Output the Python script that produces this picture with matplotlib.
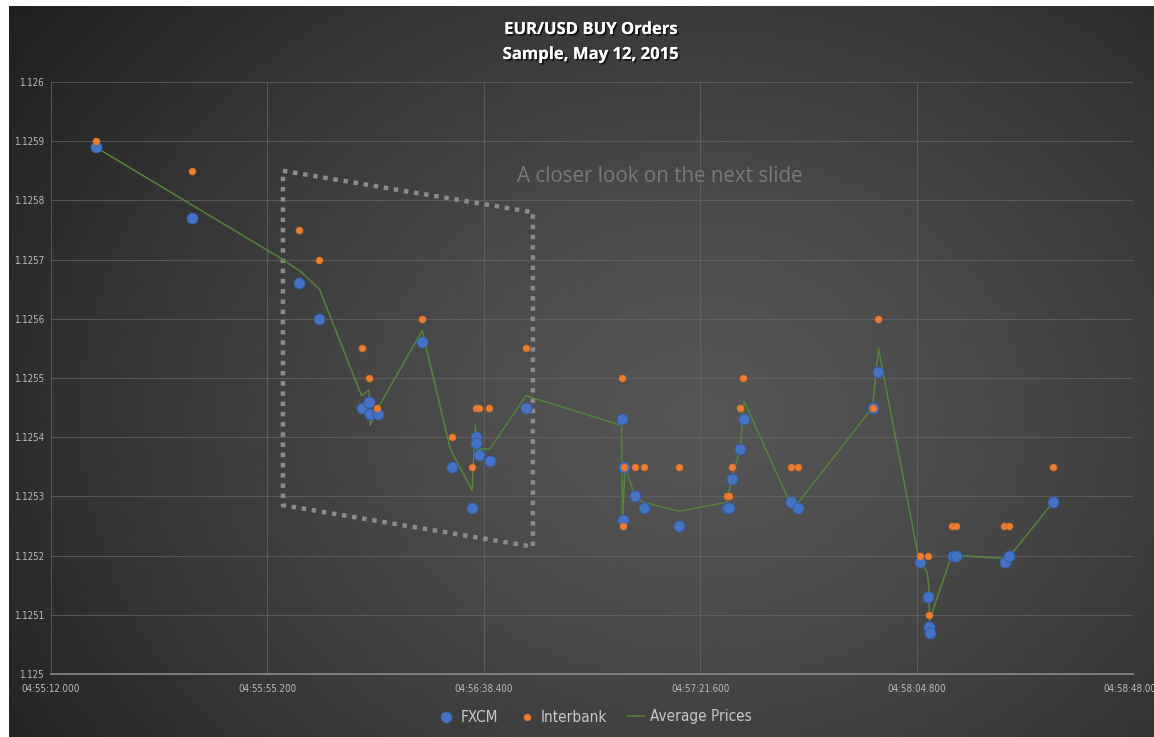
import numpy as np
import pandas as pd
import matplotlib
matplotlib.use("Agg")
import matplotlib.pyplot as plt
import matplotlib.patheffects as pe
from matplotlib import font_manager
from matplotlib.ticker import FixedLocator, FuncFormatter

# ---- order data (time of day, price) ----
fxcm_time = ["04:55:20.9", "04:55:40.15", "04:56:01.5", "04:56:05.5", "04:56:14.0",
             "04:56:15.5", "04:56:15.7", "04:56:17.2", "04:56:26.0", "04:56:32.1",
             "04:56:36.05", "04:56:36.85", "04:56:36.75", "04:56:37.5", "04:56:39.6",
             "04:56:46.8", "04:57:06.05", "04:57:06.25", "04:57:06.45", "04:57:08.6",
             "04:57:10.3", "04:57:17.4", "04:57:26.9", "04:57:27.3", "04:57:27.95",
             "04:57:29.6", "04:57:30.25", "04:57:39.7", "04:57:41.2", "04:57:56.1",
             "04:57:57.1", "04:58:05.5", "04:58:07.1", "04:58:07.3", "04:58:07.4",
             "04:58:12.1", "04:58:12.75", "04:58:22.5", "04:58:23.3", "04:58:32.0"]
fxcm_price = [1.12589, 1.12577, 1.12566, 1.12560, 1.12545,
              1.12546, 1.12544, 1.12544, 1.12556, 1.12535,
              1.12528, 1.12540, 1.12539, 1.12537, 1.12536,
              1.12545, 1.12543, 1.12526, 1.12535, 1.12530,
              1.12528, 1.12525, 1.12528, 1.12528, 1.12533,
              1.12538, 1.12543, 1.12529, 1.12528, 1.12545,
              1.12551, 1.12519, 1.12513, 1.12508, 1.12507,
              1.12520, 1.12520, 1.12519, 1.12520, 1.12529]

interbank_time = ["04:55:20.9", "04:55:40.15", "04:56:01.5", "04:56:05.5", "04:56:14.0",
                  "04:56:15.5", "04:56:17.1", "04:56:26.0", "04:56:32.1", "04:56:36.05",
                  "04:56:36.75", "04:56:37.4", "04:56:39.5", "04:56:46.75", "04:57:06.0",
                  "04:57:06.2", "04:57:06.45", "04:57:08.5", "04:57:10.3", "04:57:17.4",
                  "04:57:26.9", "04:57:27.3", "04:57:27.9", "04:57:29.5", "04:57:30.2",
                  "04:57:39.7", "04:57:41.2", "04:57:56.0", "04:57:57.1", "04:58:05.4",
                  "04:58:07.1", "04:58:07.2", "04:58:11.9", "04:58:12.6", "04:58:22.3",
                  "04:58:23.2", "04:58:32.0"]
interbank_price = [1.12590, 1.12585, 1.12575, 1.12570, 1.12555,
                   1.12550, 1.12545, 1.12560, 1.12540, 1.12535,
                   1.12545, 1.12545, 1.12545, 1.12555, 1.12550,
                   1.12525, 1.12535, 1.12535, 1.12535, 1.12535,
                   1.12530, 1.12530, 1.12535, 1.12545, 1.12550,
                   1.12535, 1.12535, 1.12545, 1.12560, 1.12520,
                   1.12520, 1.12510, 1.12525, 1.12525, 1.12525,
                   1.12525, 1.12535]

avg_time = ["04:55:20.9", "04:55:58.3", "04:56:01.8", "04:56:05.6", "04:56:14.0",
            "04:56:15.5", "04:56:15.7", "04:56:17.3", "04:56:26.1", "04:56:31.7",
            "04:56:36.05", "04:56:36.7", "04:56:37.0", "04:56:39.6", "04:56:46.8",
            "04:57:05.9", "04:57:06.1", "04:57:06.6", "04:57:08.6", "04:57:10.25",
            "04:57:17.4", "04:57:26.9", "04:57:27.9", "04:57:29.55", "04:57:30.4",
            "04:57:39.5", "04:57:41.2", "04:57:56.0", "04:57:57.2", "04:58:05.1",
            "04:58:06.95", "04:58:07.3", "04:58:07.35", "04:58:11.8", "04:58:13.5",
            "04:58:22.5", "04:58:23.5", "04:58:32.0"]
avg_price = [1.12589, 1.12570, 1.12568, 1.12565, 1.12547,
             1.12548, 1.12542, 1.12545, 1.12558, 1.12538,
             1.12531, 1.12542, 1.12538, 1.12538, 1.12547,
             1.12542, 1.12526, 1.12535, 1.12530, 1.12529,
             1.125275, 1.12529, 1.12533, 1.12538, 1.12546,
             1.12529, 1.12529, 1.12545, 1.12555, 1.12520,
             1.12517, 1.12514, 1.12509, 1.12520, 1.12520,
             1.125195, 1.12520, 1.12529]

# highlighted window (corners, clockwise from top-left)
zoom_time = ["04:55:58.3", "04:56:48.2", "04:56:48.2", "04:55:58.3"]
zoom_price = [1.12585, 1.12578, 1.125215, 1.125285]

axis_start = "04:55:12"
x_ticks = ["04:55:12.000", "04:55:55.200", "04:56:38.400",
           "04:57:21.600", "04:58:04.800", "04:58:48.000"]


def secs(labels):
    t = pd.to_timedelta(pd.Series(labels)) - pd.to_timedelta(axis_start)
    return t.dt.total_seconds().to_numpy()


def clock(s, pos=None):
    tot = pd.to_timedelta(axis_start).total_seconds() + s
    h = int(tot // 3600)
    m = int(tot % 3600 // 60)
    sec = tot % 60
    return f"{h:02d}:{m:02d}:{sec:06.3f}"


# narrow face for ticks and legend, whatever is available
installed = {f.name for f in font_manager.fontManager.ttflist}
if "Liberation Sans Narrow" in installed:
    narrow = {"family": ["Liberation Sans Narrow", "DejaVu Sans"], "stretch": "normal"}
else:
    narrow = {"family": ["DejaVu Sans"], "stretch": "condensed"}

W, H = 1154, 737
fig = plt.figure(figsize=(W / 100, H / 100), dpi=100, facecolor="white")

# dark slide background with a soft radial glow
bg = fig.add_axes([9 / W, 0, 1 - 9 / W, 1 - 6 / H])
bg.set_axis_off()
yy, xx = np.mgrid[0:400, 0:640]
cx, cy = 0.60 * 640, 0.56 * 400
r = np.sqrt(((xx - cx) / 420.0) ** 2 + ((yy - cy) / 330.0) ** 2)
shade = 0.335 - 0.18 * np.clip(r, 0, 1.3) ** 1.3
bg.imshow(shade, cmap="gray", vmin=0, vmax=1, aspect="auto",
          interpolation="bilinear", extent=[0, 1, 0, 1])
bg.set_xlim(0, 1)
bg.set_ylim(0, 1)

ax = fig.add_axes([51 / W, 1 - 674 / H, (1133 - 51) / W, (674 - 82) / H])
ax.patch.set_alpha(0)

ax.set_xlim(0, 216)
ax.set_ylim(1.125, 1.126)
ax.xaxis.set_major_locator(FixedLocator(secs(x_ticks)))
ax.xaxis.set_major_formatter(FuncFormatter(clock))
ax.set_yticks(np.round(np.arange(1.125, 1.12601, 0.0001), 4))
ax.yaxis.set_major_formatter(FuncFormatter(lambda v, p: f"{v:.4f}".rstrip("0")))
ax.grid(True, color="#6a6a6a", lw=0.8, alpha=0.65)
ax.set_axisbelow(True)
for side in ("top", "right", "left"):
    ax.spines[side].set_visible(False)
ax.spines["bottom"].set_color("#8a8a8a")
ax.spines["bottom"].set_linewidth(1.2)
ax.tick_params(length=0, colors="#bdbdbd", labelsize=7, pad=5)
for lab in ax.get_xticklabels() + ax.get_yticklabels():
    lab.set_family(narrow["family"])
    lab.set_fontstretch(narrow["stretch"])
ax.tick_params(axis="x", pad=7)

# dotted window around the first sell-off
zx = np.append(secs(zoom_time), secs(zoom_time)[0])
zy = np.append(zoom_price, zoom_price[0])
ax.plot(zx, zy, color="#8c8c8c", lw=3.2, ls=(0, (1, 1.3)),
        solid_capstyle="butt", dash_capstyle="butt", zorder=2)
ax.text(121.6, 1.12584, "A closer look on the next slide", color="#7a7a7a",
        fontsize=14.8, family=["Open Sans", "DejaVu Sans"], ha="center", va="center")

ax.plot(secs(avg_time), avg_price, color="#55843a", lw=1.1, zorder=3,
        label="Average Prices")
ax.scatter(secs(fxcm_time), fxcm_price, s=64, color="#4472c4", edgecolor="#35599a",
           lw=0.6, zorder=4, label="FXCM")
ax.scatter(secs(interbank_time), interbank_price, s=26, color="#ed7d31",
           edgecolor="#c8651f", lw=0.4, zorder=5, label="Interbank")

handles, labels = ax.get_legend_handles_labels()
order = [labels.index(n) for n in ("FXCM", "Interbank", "Average Prices")]
leg = fig.legend([handles[i] for i in order], [labels[i] for i in order],
                 loc="center", bbox_to_anchor=(0.515, 1 - 717 / H), ncol=3,
                 frameon=False, handlelength=1.2, handletextpad=0.3,
                 columnspacing=1.3,
                 prop={"family": narrow["family"], "stretch": narrow["stretch"], "size": 11})
for t in leg.get_texts():
    t.set_color("#c8c8c8")

shadow = [pe.withSimplePatchShadow(offset=(1.2, -1.2), shadow_rgbFace="black", alpha=0.7),
          pe.Normal()]
for y, txt in ((29, "EUR/USD BUY Orders"), (54, "Sample, May 12, 2015")):
    fig.text(0.5117, 1 - y / H, txt, color="white", fontsize=12,
             fontweight="bold", family=["Open Sans", "DejaVu Sans"], ha="center",
             va="center", path_effects=shadow)

fig.savefig("out.png", dpi=100, facecolor="white")
